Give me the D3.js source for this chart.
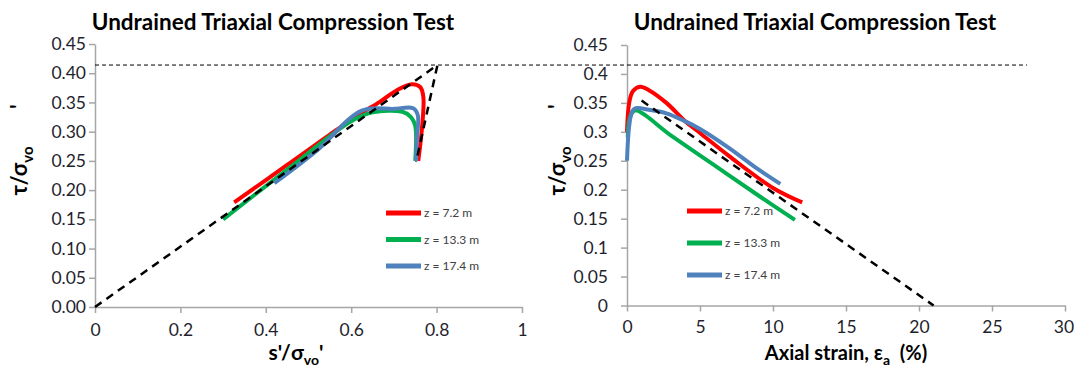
<!DOCTYPE html>
<html>
<head>
<meta charset="utf-8">
<script src="https://cdn.jsdelivr.net/npm/d3@7"></script>
<style>
  body { margin: 0; background: #fff; }
  svg { display: block; font-family: Lato, "Open Sans", sans-serif; }
</style>
</head>
<body>
<svg id="chart" width="1074" height="371"></svg>
<script>
// ---- data ----
const depths = ["z = 7.2 m", "z = 13.3 m", "z = 17.4 m"];
const colors = ["#ff0000", "#00b050", "#4f81bd"];

// stress path: s'/σvo' vs τ/σvo'
const pathRed = [[0.326,0.179],[0.45,0.243],[0.55,0.295],[0.62,0.330],[0.667,0.351],[0.707,0.371],[0.742,0.381],[0.762,0.376],[0.769,0.359],[0.765,0.300],[0.757,0.250]];
const pathGreen = [[0.30,0.150],[0.45,0.235],[0.60,0.318],[0.65,0.333],[0.72,0.334],[0.74,0.325],[0.75,0.310],[0.75,0.250]];
const pathBlue = [[0.42,0.212],[0.52,0.268],[0.625,0.336],[0.70,0.339],[0.745,0.340],[0.756,0.328],[0.754,0.290],[0.752,0.250]];
const pathLine = [[0,0],[0.802,0.414],[0.752,0.248]];

// stress-strain: axial strain (%) vs τ/σvo'
const strainRed = [[0,0.300],[0.15,0.350],[0.4,0.370],[0.9,0.378],[1.5,0.372],[2.7,0.350],[4,0.318],[5,0.298],[7,0.258],[10,0.203],[12,0.178]];
const strainGreen = [[0.05,0.290],[0.2,0.325],[0.55,0.337],[3,0.294],[6,0.242],[9,0.190],[11.5,0.148]];
const strainBlue = [[0,0.250],[0.15,0.310],[0.35,0.335],[0.6,0.341],[1.5,0.338],[2.7,0.332],[4,0.318],[5,0.305],[7,0.272],[9,0.235],[10.5,0.210]];
const strainLine = [[1,0.354],[21,0]];

const tauLimit = 0.414;  // horizontal dashed line

const yTicks = [0, 0.05, 0.1, 0.15, 0.2, 0.25, 0.3, 0.35, 0.4, 0.45];
const xTicksLeft = [0, 0.2, 0.4, 0.6, 0.8, 1];
const xTicksRight = [0, 5, 10, 15, 20, 25, 30];

const svg = d3.select("#chart");

// scales
const xL = d3.scaleLinear().domain([0, 1]).range([95, 522]);
const yL = d3.scaleLinear().domain([0, 0.45]).range([307, 44]);
const xR = d3.scaleLinear().domain([0, 30]).range([627, 1065]);
const yR = d3.scaleLinear().domain([0, 0.45]).range([305.5, 45]);

function styleAxis(g) {
    g.selectAll("path.domain").attr("stroke", "#a6a6a6").attr("stroke-width", 1.5);
    g.selectAll(".tick line").attr("stroke", "#a6a6a6").attr("stroke-width", 1.5);
    g.selectAll(".tick text")
        .attr("fill", "#1f1f2e")
        .style("font-size", "17.5px")
        .style("font-family", "Lato, sans-serif");
}

// ---- left chart ----
svg.append("g")
    .attr("transform", `translate(0,${yL(0)})`)
    .call(d3.axisBottom(xL).tickValues(xTicksLeft).tickFormat(d3.format("~g")).tickSize(6).tickSizeOuter(0).tickPadding(11))
    .call(styleAxis);

svg.append("g")
    .attr("transform", `translate(${xL(0)},0)`)
    .call(d3.axisLeft(yL).tickValues(yTicks).tickFormat(d3.format(".2f")).tickSize(6).tickSizeOuter(0).tickPadding(3))
    .call(styleAxis);

// ---- right chart ----
const xAxisR = svg.append("g")
    .attr("transform", `translate(0,${yR(0)})`)
    .call(d3.axisBottom(xR).tickValues(xTicksRight).tickSize(6).tickSizeOuter(0).tickPadding(9))
    .call(styleAxis);
// keep the last label inside the frame
xAxisR.selectAll(".tick text").filter(d => d === 30).attr("dx", -1.5);

svg.append("g")
    .attr("transform", `translate(${xR(0)},0)`)
    .call(d3.axisLeft(yR).tickValues(yTicks).tickFormat(d3.format("~g")).tickSize(6).tickSizeOuter(0).tickPadding(13))
    .call(styleAxis);

// horizontal dashed limit line across both panels
svg.append("line")
    .attr("x1", xL(0)).attr("x2", xR(27.4))
    .attr("y1", yL(tauLimit)).attr("y2", yL(tauLimit))
    .attr("stroke", "#000").attr("stroke-width", 1)
    .attr("stroke-dasharray", "4,3");

const lineL = d3.line().x(d => xL(d[0])).y(d => yL(d[1])).curve(d3.curveCatmullRom.alpha(0.5));
const lineR = d3.line().x(d => xR(d[0])).y(d => yR(d[1])).curve(d3.curveCatmullRom.alpha(0.5));

[pathRed, pathGreen, pathBlue].forEach((p, i) => {
    svg.append("path").datum(p)
        .attr("d", lineL)
        .attr("fill", "none")
        .attr("stroke", colors[i])
        .attr("stroke-width", 4)
        .attr("stroke-linejoin", "round");
});
[strainRed, strainGreen, strainBlue].forEach((p, i) => {
    svg.append("path").datum(p)
        .attr("d", lineR)
        .attr("fill", "none")
        .attr("stroke", colors[i])
        .attr("stroke-width", 4)
        .attr("stroke-linejoin", "round");
});

// black dashed reference lines
svg.append("path").datum(pathLine)
    .attr("d", d3.line().x(d => xL(d[0])).y(d => yL(d[1])))
    .attr("fill", "none").attr("stroke", "#000").attr("stroke-width", 2.5)
    .attr("stroke-dasharray", "8,6").attr("stroke-linejoin", "miter");
svg.append("path").datum(strainLine)
    .attr("d", d3.line().x(d => xR(d[0])).y(d => yR(d[1])))
    .attr("fill", "none").attr("stroke", "#000").attr("stroke-width", 2.5)
    .attr("stroke-dasharray", "8,6");

// legends
function legend(x0, y0, gap) {
    depths.forEach((name, i) => {
        const y = y0 + i * gap;
        svg.append("line")
            .attr("x1", x0).attr("x2", x0 + 35)
            .attr("y1", y).attr("y2", y)
            .attr("stroke", colors[i]).attr("stroke-width", 5);
        svg.append("text")
            .attr("x", x0 + 38).attr("y", y + 4)
            .attr("fill", "#404040")
            .style("font-size", "12px")
            .text(name);
    });
}
legend(386, 213, 26.5);
legend(687, 211, 32);

// titles
function title(x, text) {
    svg.append("text")
        .attr("x", x).attr("y", 30)
        .attr("text-anchor", "middle")
        .style("font-size", "22.5px").style("font-weight", "bold")
        .text(text);
}
title(273, "Undrained Triaxial Compression Test");
title(815, "Undrained Triaxial Compression Test");

// y axis titles
function yTitle(x) {
    const t = svg.append("text")
        .attr("transform", `translate(${x},150) rotate(-90)`)
        .attr("text-anchor", "middle")
        .style("font-size", "22px").style("font-weight", "bold")
        .style("white-space", "pre");
    t.append("tspan").text("τ/σ");
    t.append("tspan").attr("dy", 6).style("font-size", "15px").text("vo");
    t.append("tspan").attr("dy", -6).text("       '");
}
yTitle(27);
yTitle(565);

// x axis titles
const xt1 = svg.append("text")
    .attr("x", 296).attr("y", 360)
    .attr("text-anchor", "middle")
    .style("font-size", "21px").style("font-weight", "bold");
xt1.append("tspan").text("s'/σ");
xt1.append("tspan").attr("dy", 5).style("font-size", "14px").text("vo");
xt1.append("tspan").attr("dy", -5).text("'");

const xt2 = svg.append("text")
    .attr("x", 846).attr("y", 360)
    .attr("text-anchor", "middle")
    .style("font-size", "20px").style("font-weight", "bold")
    .style("white-space", "pre");
xt2.append("tspan").text("Axial strain, ε");
xt2.append("tspan").attr("dy", 5).style("font-size", "14px").text("a");
xt2.append("tspan").attr("dy", -5).text("  (%)");
</script>
</body>
</html>
